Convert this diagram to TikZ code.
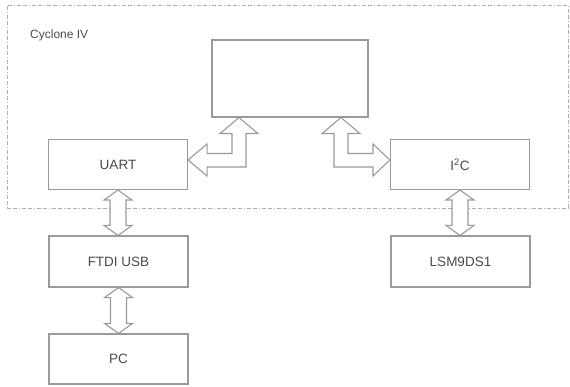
\documentclass[tikz,border=0pt]{standalone}
\usepackage{fontspec}
\setmainfont{Liberation Sans}
\usetikzlibrary{calc}
\definecolor{boxline}{HTML}{9A9A9A}
\definecolor{txt}{HTML}{4A4A4A}
\tikzset{
  blk/.style={draw=boxline, line width=1.1pt, fill=white, minimum width=139pt, minimum height=50pt, inner sep=0pt, text=txt, font=\fontsize{13.5}{16}\selectfont},
  dar/.style={draw=boxline, line width=1.1pt, fill=white, line join=miter},
  frm/.style={draw=boxline!80, line width=0.8pt, dash pattern=on 4pt off 2pt on 4pt off 2pt on 1pt off 2pt, minimum width=561pt, minimum height=203pt, inner sep=0pt}
}
\newcommand\vdarrow[2]{\draw[dar] let \p1=(#1.south), \p2=(#2.north) in
  (\x1,\y1) -- (\x1+14pt,\y1-10pt) -- (\x1+8pt,\y1-10pt) -- (\x1+8pt,\y2+10pt) -- (\x1+14pt,\y2+10pt) -- (\x1,\y2)
  -- (\x1-14pt,\y2+10pt) -- (\x1-8pt,\y2+10pt) -- (\x1-8pt,\y1-10pt) -- (\x1-14pt,\y1-10pt) -- cycle;}
\begin{document}
\begin{tikzpicture}[x=1pt,y=-1pt]
\useasboundingbox (0,0) rectangle (570,387);
\node[frm] (fpga) at (287.5,106.5) {};
\node[anchor=west, text=txt, font=\fontsize{12}{14}\selectfont, inner sep=0pt] (lbl) at (30,35) {Cyclone IV};
\node[blk, minimum width=156pt, minimum height=77pt] (core) at (290,78.5) {};
\node[blk] (uart) at (118,164.5) {UART};
\node[blk] (i2c) at (460,164.5) {I\textsuperscript{2}C};
\node[blk, minimum height=51pt] (ftdi) at (118.5,261.5) {FTDI USB};
\node[blk] (pc) at (118.5,359) {PC};
\node[blk, minimum height=51pt] (lsm) at (460.5,261.5) {LSM9DS1};
\vdarrow{uart}{ftdi}
\vdarrow{ftdi}{pc}
\vdarrow{i2c}{lsm}
\draw[dar] let \p1=([yshift=4.5pt]uart.east), \p2=([xshift=-51pt]core.south) in
  (\x1,\y1) -- (\x1+19pt,\y1+16pt) -- (\x1+19pt,\y1+6.5pt) -- (\x2-7pt,\y1+6.5pt) -- (\x2-7pt,\y2-16pt) -- (\x2-19pt,\y2-16pt) -- (\x2,\y2)
  -- (\x2+19pt,\y2-16pt) -- (\x2+7pt,\y2-16pt) -- (\x2+7pt,\y1-7pt) -- (\x1+19pt,\y1-7pt) -- (\x1+19pt,\y1-16pt) -- cycle;
\draw[dar] let \p1=([xshift=51pt]core.south), \p2=([yshift=4.5pt]i2c.west) in
  (\x1,\y1) -- (\x1+19pt,\y1-16pt) -- (\x1+7pt,\y1-16pt) -- (\x1+7pt,\y2+6.5pt) -- (\x2-17pt,\y2+6.5pt) -- (\x2-17pt,\y2+16pt) -- (\x2,\y2)
  -- (\x2-17pt,\y2-16pt) -- (\x2-17pt,\y2-7pt) -- (\x1-7pt,\y2-7pt) -- (\x1-7pt,\y1-16pt) -- (\x1-19pt,\y1-16pt) -- cycle;
\end{tikzpicture}
\end{document}
